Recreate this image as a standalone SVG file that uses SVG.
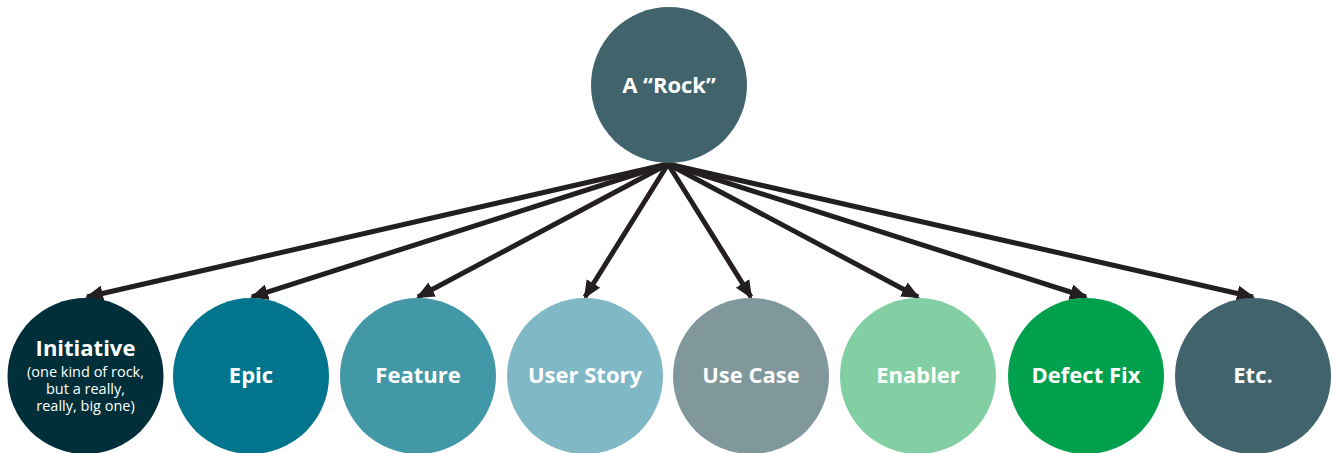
<svg xmlns="http://www.w3.org/2000/svg" width="1333" height="453" viewBox="0 0 1333 453">
<style>
.lbl{font-family:"Open Sans","Liberation Sans",sans-serif;font-weight:700;font-size:22px;fill:#fff;text-anchor:middle}
.sub{font-family:"Open Sans","Liberation Sans",sans-serif;font-weight:500;font-size:14.5px;fill:#fff;text-anchor:middle}
.con{stroke:#231f20;stroke-width:5;fill:none;marker-end:url(#ah)}
</style>
<defs>
<marker id="ah" viewBox="0 0 18 16" refX="16" refY="8" markerWidth="18" markerHeight="16" markerUnits="userSpaceOnUse" orient="auto">
<path d="M0,0 L18,8 L0,16 Z" fill="#231f20"/>
</marker>
</defs>
<g id="connectors">
<line class="con" x1="668" y1="164" x2="87" y2="297"/>
<line class="con" x1="668" y1="164" x2="252" y2="297"/>
<line class="con" x1="668" y1="164" x2="418" y2="297"/>
<line class="con" x1="668" y1="164" x2="585" y2="297"/>
<line class="con" x1="668" y1="164" x2="751" y2="297"/>
<line class="con" x1="668" y1="164" x2="918" y2="297"/>
<line class="con" x1="668" y1="164" x2="1086" y2="297"/>
<line class="con" x1="668" y1="164" x2="1253" y2="297"/>
</g>
<g id="rock"><circle cx="669" cy="85" r="78" fill="#41646c"/><text class="lbl" x="669" y="93">A “Rock”</text></g>
<g id="initiative"><circle cx="85.5" cy="376" r="78" fill="#002f3a"/><text class="lbl" x="85.5" y="356">Initiative</text>
<text class="sub" x="85.5" y="377">(one kind of rock,</text><text class="sub" x="85.5" y="394">but a really,</text><text class="sub" x="85.5" y="411">really, big one)</text></g>
<g id="epic"><circle cx="251" cy="376" r="78" fill="#00758d"/><text class="lbl" x="251" y="383">Epic</text></g>
<g id="feature"><circle cx="418" cy="376" r="78" fill="#4398a8"/><text class="lbl" x="418" y="383">Feature</text></g>
<g id="userstory"><circle cx="585" cy="376" r="78" fill="#80b8c6"/><text class="lbl" x="585" y="383">User Story</text></g>
<g id="usecase"><circle cx="751" cy="376" r="78" fill="#80979b"/><text class="lbl" x="751" y="383">Use Case</text></g>
<g id="enabler"><circle cx="918" cy="376" r="78" fill="#82cfa4"/><text class="lbl" x="918" y="383">Enabler</text></g>
<g id="defectfix"><circle cx="1086" cy="376" r="78" fill="#00a04d"/><text class="lbl" x="1086" y="383">Defect Fix</text></g>
<g id="etc"><circle cx="1253" cy="376" r="78" fill="#41646c"/><text class="lbl" x="1253" y="383">Etc.</text></g>
</svg>
